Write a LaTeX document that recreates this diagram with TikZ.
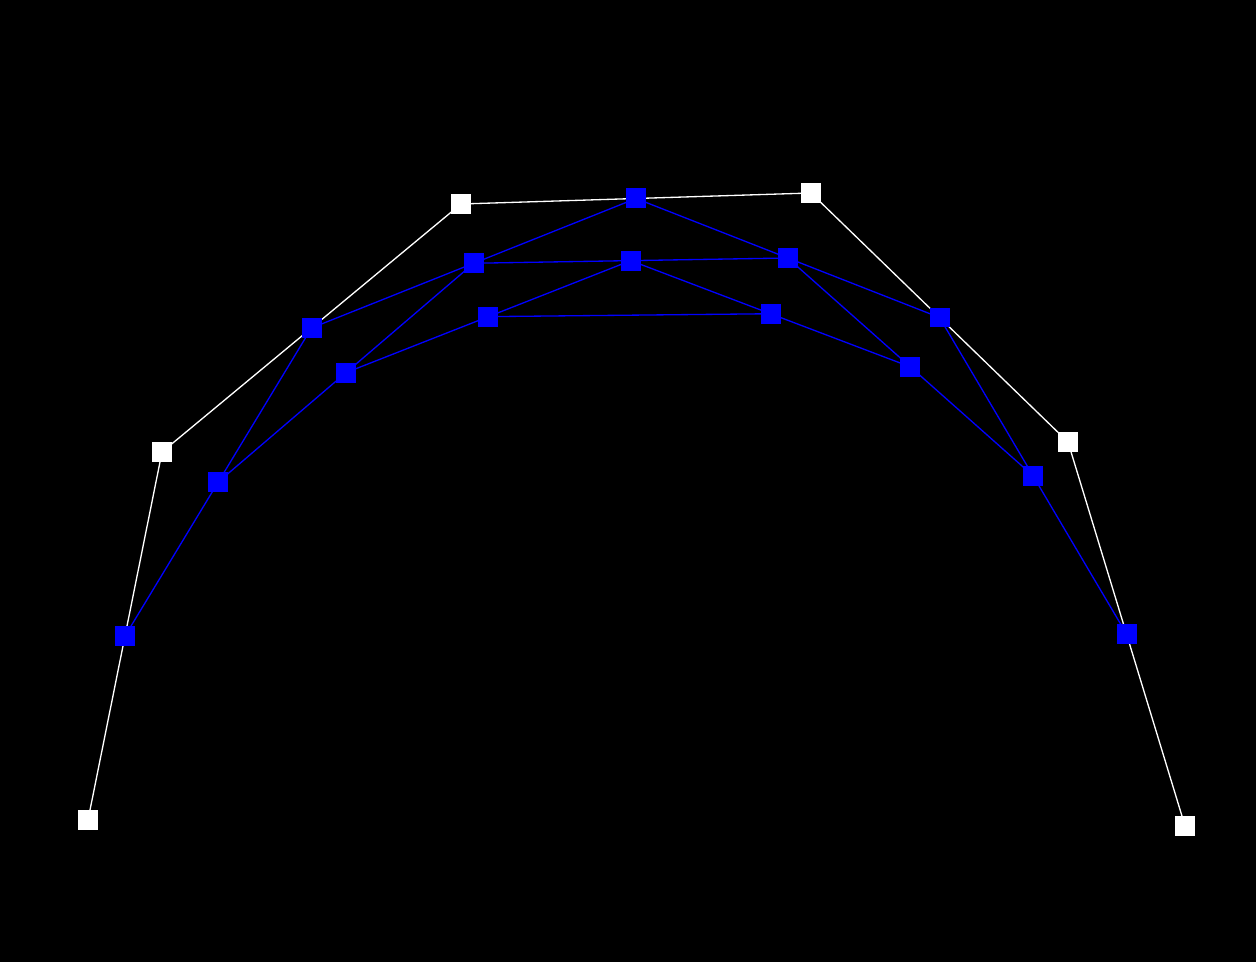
\documentclass[tikz,border=0pt]{standalone}
\usepackage{tikz}
\usetikzlibrary{calc}
\pgfdeclarelayer{canvas}
\pgfdeclarelayer{back}
\pgfsetlayers{canvas,back,main}
\tikzset{
    ctrl/.style = {rectangle, draw=none, fill=white, minimum size=0.4cm, inner sep=0pt},
    mid/.style = {rectangle, draw=none, fill=blue, minimum size=0.4cm, inner sep=0pt},
    cline/.style = {white, line width=0.75pt},
    mline/.style = {blue, line width=0.75pt}
}
\begin{document}
\begin{tikzpicture}[x=0.02cm, y=-0.02cm]
    \begin{pgfonlayer}{canvas}
        \fill[black] (0,0) rectangle (1256,962);
    \end{pgfonlayer}
    \useasboundingbox (0,0) rectangle (1256,962);

    % control polygon
    \node[ctrl] (p0) at (88,820) {};
    \node[ctrl] (p1) at (162,452) {};
    \node[ctrl] (p2) at (461,204) {};
    \node[ctrl] (p3) at (811,193) {};
    \node[ctrl] (p4) at (1068,442) {};
    \node[ctrl] (p5) at (1185,826) {};

    % first level
    \node[mid] (q0) at ($(p0)!0.5!(p1)$) {};
    \node[mid] (q1) at ($(p1)!0.5!(p2)$) {};
    \node[mid] (q2) at ($(p2)!0.5!(p3)$) {};
    \node[mid] (q3) at ($(p3)!0.5!(p4)$) {};
    \node[mid] (q4) at ($(p4)!0.5!(p5)$) {};

    % second level
    \node[mid] (r0) at ($(q0)!0.5!(q1)$) {};
    \node[mid] (r1) at ($(q1)!0.5!(q2)$) {};
    \node[mid] (r2) at ($(q2)!0.5!(q3)$) {};
    \node[mid] (r3) at ($(q3)!0.5!(q4)$) {};

    % third level
    \node[mid] (s0) at ($(r0)!0.5!(r1)$) {};
    \node[mid] (s1) at ($(r1)!0.5!(r2)$) {};
    \node[mid] (s2) at ($(r2)!0.5!(r3)$) {};

    % fourth level
    \node[mid] (t0) at ($(s0)!0.5!(s1)$) {};
    \node[mid] (t1) at ($(s1)!0.5!(s2)$) {};

    \begin{pgfonlayer}{back}
        \draw[cline] (p0.center) -- (p1.center) -- (p2.center) -- (p3.center) -- (p4.center) -- (p5.center);
        \draw[mline] (q0.center) -- (q1.center) -- (q2.center) -- (q3.center) -- (q4.center);
        \draw[mline] (r0.center) -- (r1.center) -- (r2.center) -- (r3.center);
        \draw[mline] (s0.center) -- (s1.center) -- (s2.center);
        \draw[mline] (t0.center) -- (t1.center);
    \end{pgfonlayer}
\end{tikzpicture}
\end{document}
